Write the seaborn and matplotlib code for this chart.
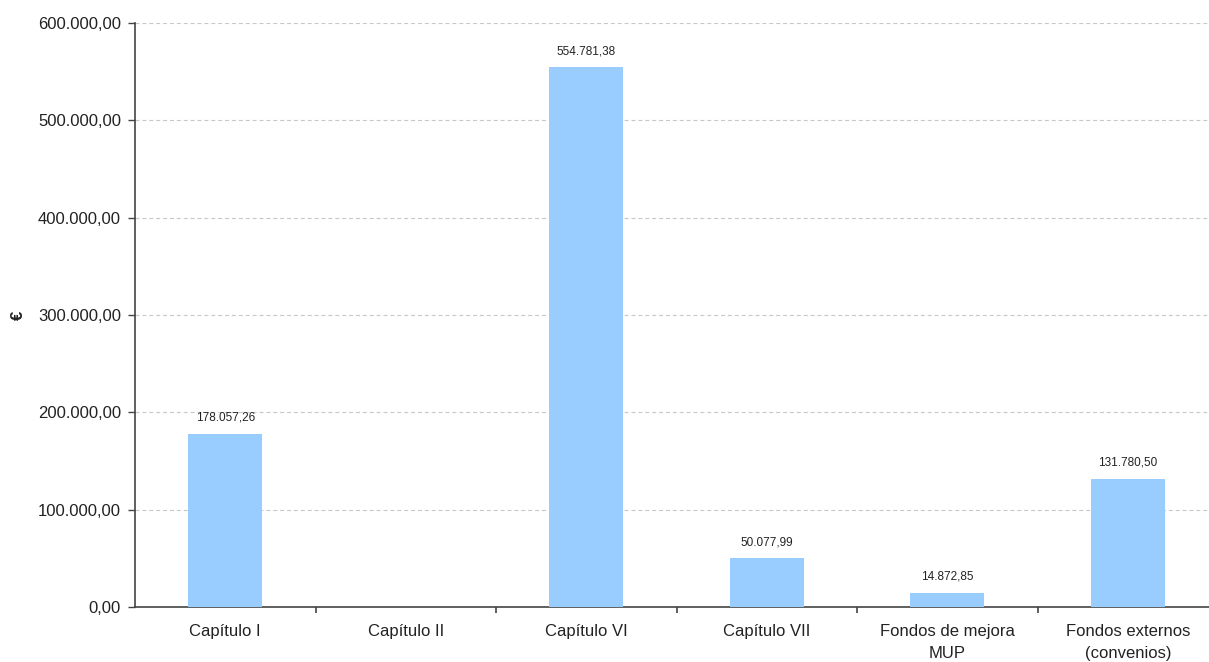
import matplotlib
matplotlib.use("Agg")
import matplotlib.pyplot as plt
import seaborn as sns
import numpy as np

# ── Data ───────────────────────────────────────────
categories = ["Capítulo I", "Capítulo II", "Capítulo VI", "Capítulo VII",
              "Fondos de mejora\nMUP", "Fondos externos\n(convenios)"]
importes = [178057.26, 0.0, 554781.38, 50077.99, 14872.85, 131780.50]
y_ticks = [0, 100000, 200000, 300000, 400000, 500000, 600000]


def fmt_es(v):
    # formato español: 554.781,38
    s = f"{v:,.2f}"
    return s.replace(",", "X").replace(".", ",").replace("X", ".")


# ── Plot ───────────────────────────────────────────
sns.set_style("white")
plt.rcParams["font.family"] = ["Liberation Sans", "DejaVu Sans"]

fig = plt.figure(figsize=(12.09, 6.62), dpi=100)
ax = fig.add_axes([135 / 1209, 55 / 662, 1083 / 1209, 584 / 662])

sns.barplot(x=categories, y=importes, color="#99CCFF", saturation=1,
            width=0.41, linewidth=0, ax=ax, zorder=3)

for i, v in enumerate(importes):
    if v > 0:
        ax.annotate(fmt_es(v), (i, v), xytext=(0, 10), textcoords="offset pixels",
                    ha="center", va="bottom", fontsize=8.5, color="#222222")

ax.set_xlim(-0.5, len(categories) - 0.5)
ax.set_ylim(0, 600000)
ax.set_yticks(y_ticks)
ax.set_yticklabels([fmt_es(t) for t in y_ticks], fontsize=12, color="#222222")

# category labels centred, tick marks on the boundaries
ax.set_xticks(range(len(categories)))
ax.set_xticklabels(categories, fontsize=12, color="#222222", linespacing=1.6)
ax.set_xticks(np.arange(0.5, len(categories) - 0.5, 1), minor=True)
ax.tick_params(axis="x", which="major", length=0, pad=12)
ax.tick_params(axis="x", which="minor", length=4, width=1.2, color="#444444",
               direction="out", bottom=True)
ax.tick_params(axis="y", length=5, width=1.0, color="#444444", pad=5, left=True)

ax.yaxis.grid(True, color="#c8c8c8", linestyle=(0, (3.6, 2.6)), linewidth=0.8, zorder=0)
ax.xaxis.grid(False)
ax.set_axisbelow(True)

for side in ["top", "right"]:
    ax.spines[side].set_visible(False)
for side in ["left", "bottom"]:
    ax.spines[side].set_color("#444444")
    ax.spines[side].set_linewidth(1.2)

ax.set_ylabel("€", fontsize=12, fontweight="bold", color="#222222", labelpad=9)
ax.set_xlabel("")

plt.savefig("out.png", dpi=100)
